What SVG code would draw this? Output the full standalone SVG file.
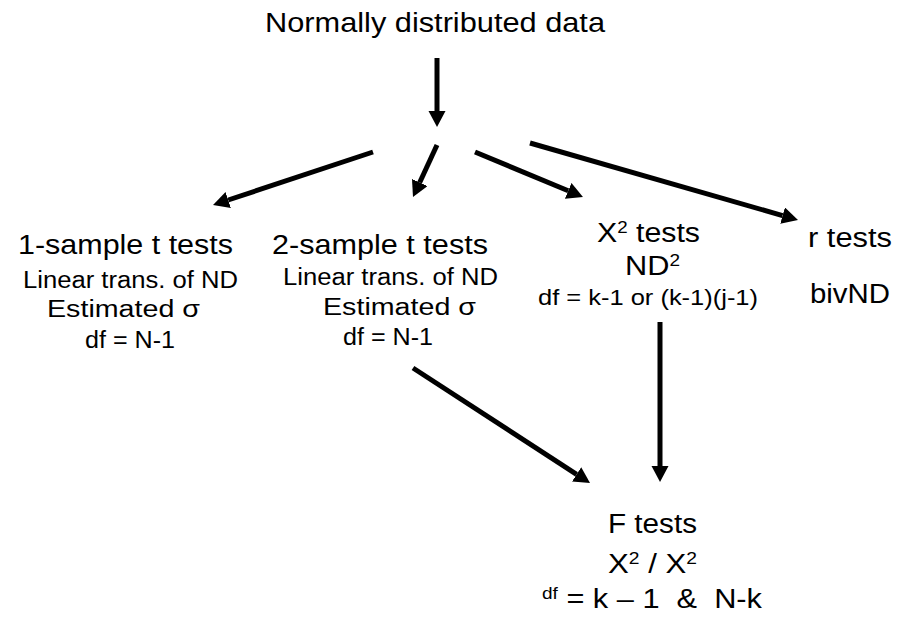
<svg xmlns="http://www.w3.org/2000/svg" width="909" height="617" viewBox="0 0 909 617">
  <defs>
    <marker id="head" markerUnits="userSpaceOnUse" markerWidth="17" markerHeight="18" refX="0" refY="8.5" orient="auto">
      <path d="M0,0 L16,8.5 L0,17 z" fill="#000"/>
    </marker>
  </defs>
  <style>
    text { font-family: "Liberation Sans", Arial, sans-serif; fill: #000; }
    .big { font-size: 27.5px; }
    .mid { font-size: 23px; }
    .small { font-size: 21.5px; }
    .sup { font-size: 17px; }
    .edge { stroke: #000; stroke-width: 5; fill: none; marker-end: url(#head); }
  </style>
  <rect width="909" height="617" fill="#fff"/>

  <g id="connectors">
    <line class="edge" x1="437" y1="58" x2="437" y2="111"/>
    <line class="edge" x1="373" y1="152" x2="228.2" y2="200"/>
    <line class="edge" x1="437" y1="145" x2="419.7" y2="182.5"/>
    <line class="edge" x1="475" y1="152" x2="568.2" y2="190.8"/>
    <line class="edge" x1="530" y1="143" x2="782.6" y2="215.6"/>
    <line class="edge" x1="413" y1="368" x2="576.6" y2="474.3"/>
    <line class="edge" x1="660" y1="322" x2="660" y2="466"/>
  </g>

  <g id="normal-data">
    <text class="big" x="265" y="31.5" textLength="340" lengthAdjust="spacingAndGlyphs">Normally distributed data</text>
  </g>

  <g id="one-sample">
    <text class="big" x="18" y="253.5" textLength="215" lengthAdjust="spacingAndGlyphs">1-sample t tests</text>
    <text class="mid" x="23" y="288" textLength="215" lengthAdjust="spacingAndGlyphs">Linear trans. of ND</text>
    <text class="mid" x="47" y="317" textLength="153" lengthAdjust="spacingAndGlyphs">Estimated σ</text>
    <text class="mid" x="85" y="348" textLength="90" lengthAdjust="spacingAndGlyphs">df = N-1</text>
  </g>

  <g id="two-sample">
    <text class="big" x="272" y="253.5" textLength="216" lengthAdjust="spacingAndGlyphs">2-sample t tests</text>
    <text class="mid" x="283" y="285" textLength="215" lengthAdjust="spacingAndGlyphs">Linear trans. of ND</text>
    <text class="mid" x="323" y="315" textLength="153" lengthAdjust="spacingAndGlyphs">Estimated σ</text>
    <text class="mid" x="343" y="345" textLength="90" lengthAdjust="spacingAndGlyphs">df = N-1</text>
  </g>

  <g id="chi-square">
    <text class="big" x="597" y="242" textLength="103" lengthAdjust="spacingAndGlyphs">X<tspan class="sup" dy="-9">2</tspan><tspan dy="9"> tests</tspan></text>
    <text class="big" x="625" y="275" textLength="55" lengthAdjust="spacingAndGlyphs">ND<tspan class="sup" dy="-9">2</tspan></text>
    <text class="small" x="538" y="305" textLength="220" lengthAdjust="spacingAndGlyphs">df = k-1 or (k-1)(j-1)</text>
  </g>

  <g id="r-tests">
    <text class="big" x="808" y="247" textLength="84" lengthAdjust="spacingAndGlyphs">r tests</text>
    <text class="big" x="810" y="303" textLength="80" lengthAdjust="spacingAndGlyphs">bivND</text>
  </g>

  <g id="f-tests">
    <text class="big" x="608" y="533" textLength="89" lengthAdjust="spacingAndGlyphs">F tests</text>
    <text class="big" x="608" y="573" textLength="89" lengthAdjust="spacingAndGlyphs">X<tspan class="sup" dy="-9">2</tspan><tspan dy="9"> / X</tspan><tspan class="sup" dy="-9">2</tspan></text>
    <text class="big" x="542" y="608" textLength="220" lengthAdjust="spacingAndGlyphs"><tspan class="sup" dy="-9">df</tspan><tspan dy="9"> = k – 1&#160; &amp;&#160; N-k</tspan></text>
  </g>
</svg>
